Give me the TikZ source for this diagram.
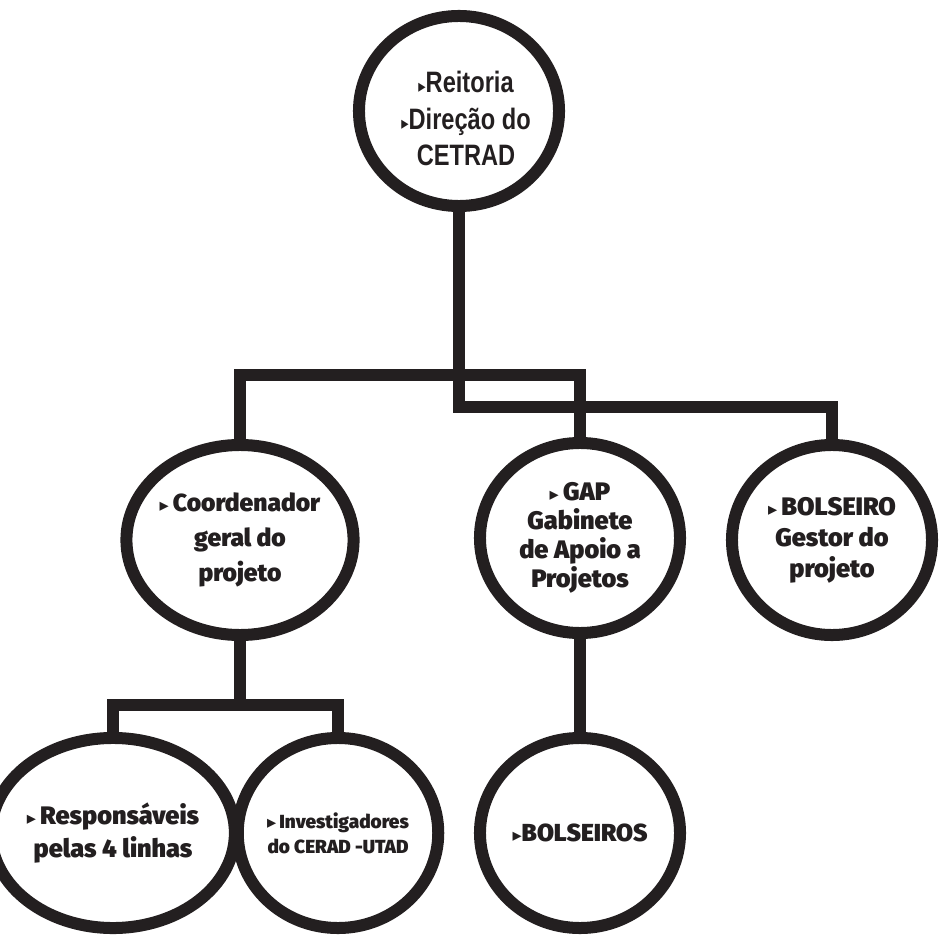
\documentclass[tikz,border=0pt]{standalone}
\usepackage{fontspec}
\usepackage{graphicx}
\usetikzlibrary{shapes.geometric}
\setmainfont{Fira Sans}[BoldFont={Fira Sans Black}]
\newfontfamily\condfont{Liberation Sans}
\newfontfamily\symfont{DejaVu Sans}
\definecolor{ink}{HTML}{231F20}
\newcommand{\tri}{{\symfont\fontsize{13}{13}\selectfont ▸}}

\begin{document}
\begin{tikzpicture}[x=0.025cm,y=-0.025cm,
		circ/.style={draw=ink, line width=0.3cm, ellipse, minimum width=5cm, minimum height=4.75cm, inner sep=0pt, align=center, text=ink},
		conn/.style={draw=ink, line width=0.3cm, line join=miter}]
		\useasboundingbox (0,0) rectangle (941,938);
		\node[circ] (topo) at (459,111) {};
		\node[font=\condfont\bfseries\fontsize{21}{26}\selectfont, text=ink] (topotxt) at (466,122)
			{\scalebox{0.8}[1]{\begin{tabular}{@{}c@{}}\tri Reitoria\\\tri Direção do\\CETRAD\end{tabular}}};
		\node[circ, font=\bfseries\fontsize{17.5}{25}\selectfont] (coord) at (240,540) {\tri\,Coordenador\\geral do\\projeto};
		\node[circ, font=\bfseries\fontsize{18}{20.5}\selectfont] (gap) at (580,538) {\tri\,GAP\\Gabinete\\de Apoio a\\Projetos};
		\node[circ, font=\bfseries\fontsize{18}{22}\selectfont] (gestor) at (832,540) {\tri\,BOLSEIRO\\Gestor do\\projeto};
		\node[circ, font=\bfseries\fontsize{18}{23}\selectfont] (resp) at (113,833) {\tri\,Responsáveis\\pelas 4 linhas};
		\node[circ, font=\bfseries\fontsize{13.5}{18}\selectfont] (invest) at (338,833) {\tri\,Investigadores\\do CERAD -UTAD};
		\node[circ, font=\bfseries\fontsize{17.5}{22}\selectfont] (bolsas) at (580,833) {\tri BOLSEIROS};
		\coordinate (jtop) at (0,407);
		\coordinate (jmid) at (0,375);
		\coordinate (jlow) at (0,705);
		\draw[conn] (topo.south) -- (topo.south |- jtop) -| (gestor.north);
		\draw[conn] (coord.north) |- (gap.north |- jmid) -- (gap.north);
		\draw[conn] (coord.south) -- (coord.south |- jlow);
		\draw[conn] (resp.north) |- (invest.north |- jlow) -- (invest.north);
		\draw[conn] (gap.south) -- (bolsas.north);
		\end{tikzpicture}
\end{document}
